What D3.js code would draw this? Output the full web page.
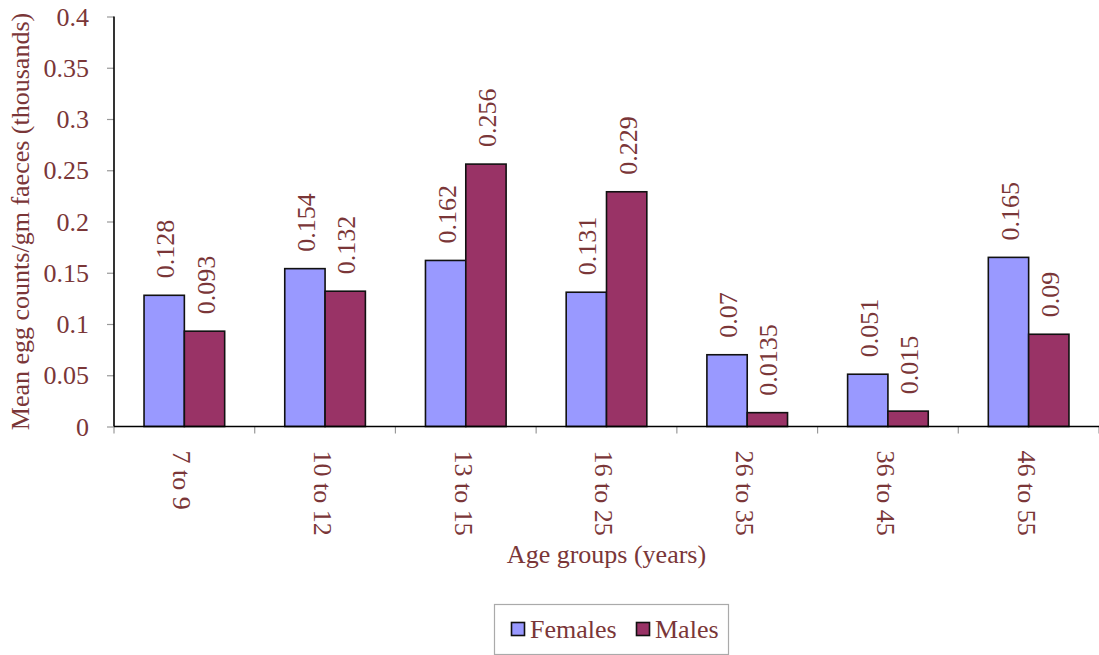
<!DOCTYPE html>
<html>
<head>
<meta charset="utf-8">
<script src="https://cdn.jsdelivr.net/npm/d3@7"></script>
<style>
  html, body { margin: 0; padding: 0; background: #fff; }
  svg { display: block; }
</style>
</head>
<body>
<svg id="chart" width="1099" height="655"></svg>
<script>
// Mean egg counts per gram of faeces (thousands), by age group and sex
const ageGroups = ["7 to 9", "10 to 12", "13 to 15", "16 to 25", "26 to 35", "36 to 45", "46 to 55"];
const seriesNames = ["Females", "Males"];
const females = [0.128, 0.154, 0.162, 0.131, 0.07, 0.051, 0.165];
const males = [0.093, 0.132, 0.256, 0.229, 0.0135, 0.015, 0.09];
const femaleLabels = ["0.128", "0.154", "0.162", "0.131", "0.07", "0.051", "0.165"];
const maleLabels = ["0.093", "0.132", "0.256", "0.229", "0.0135", "0.015", "0.09"];
const yTicks = [0, 0.05, 0.1, 0.15, 0.2, 0.25, 0.3, 0.35, 0.4];
const yTickLabels = ["0", "0.05", "0.1", "0.15", "0.2", "0.25", "0.3", "0.35", "0.4"];

const colors = { Females: "#9999ff", Males: "#993366" };
const textColor = "#7a3638";
const serif = "'Liberation Serif', 'Times New Roman', serif";

const svg = d3.select("#chart");
const plotLeft = 114, plotRight = 1099, plotTop = 16.5, plotBottom = 426.5;

const x = d3.scaleBand().domain(ageGroups).range([plotLeft, plotRight]).paddingInner(0).paddingOuter(0);
const xs = d3.scaleBand().domain(seriesNames).range([0, x.bandwidth()]).paddingInner(0).paddingOuter(0.745);
const y = d3.scaleLinear().domain([0, 0.4]).range([plotBottom, plotTop]);

const rows = ageGroups.map((g, i) => ({
  group: g,
  values: [
    { s: "Females", v: females[i], label: femaleLabels[i] },
    { s: "Males", v: males[i], label: maleLabels[i] }
  ]
}));

// Shared text styling
function styleText(sel) {
  return sel.style("font-family", serif).style("font-size", "26px").style("fill", textColor);
}

// Y axis
const yAxis = d3.axisLeft(y).tickValues(yTicks).tickSize(7).tickPadding(18)
  .tickFormat((d, i) => yTickLabels[i]);
const gy = svg.append("g").attr("transform", `translate(${plotLeft},0)`).call(yAxis)
  .attr("font-family", null).attr("font-size", null);
gy.select(".domain").remove();
gy.selectAll(".tick line").attr("stroke", "#999").attr("stroke-width", 1.2);
styleText(gy.selectAll(".tick text")).attr("dy", "0.33em");

// Category ticks at band boundaries
const boundaries = ageGroups.map(g => x(g)).concat([plotRight]);
svg.append("g").selectAll("line").data(boundaries).join("line")
  .attr("x1", d => d).attr("x2", d => d)
  .attr("y1", plotBottom).attr("y2", plotBottom + 7)
  .attr("stroke", "#999").attr("stroke-width", 1.2);

// Bars
const groups = svg.append("g").selectAll("g").data(rows).join("g")
  .attr("transform", d => `translate(${x(d.group)},0)`);

groups.selectAll("rect").data(d => d.values).join("rect")
  .attr("x", d => xs(d.s))
  .attr("y", d => y(d.v))
  .attr("width", xs.bandwidth())
  .attr("height", d => y(0) - y(d.v))
  .attr("fill", d => colors[d.s])
  .attr("stroke", "#111")
  .attr("stroke-width", 1.6);

// Value labels, rotated, above each bar
styleText(groups.selectAll("text.val").data(d => d.values).join("text"))
  .attr("class", "val")
  .attr("transform", d => `translate(${xs(d.s) + xs.bandwidth() / 2 + 1},${y(d.v) - 17}) rotate(-90)`)
  .attr("dy", "0.35em")
  .attr("text-anchor", "start")
  .text(d => d.label);

// Axis lines
svg.append("line").attr("x1", plotLeft).attr("x2", plotLeft).attr("y1", plotTop).attr("y2", plotBottom)
  .attr("stroke", "#000").attr("stroke-width", 1.6);
svg.append("line").attr("x1", plotLeft).attr("x2", plotRight).attr("y1", plotBottom).attr("y2", plotBottom)
  .attr("stroke", "#000").attr("stroke-width", 1.6);

// Category labels, rotated clockwise
styleText(svg.append("g").selectAll("text").data(ageGroups).join("text"))
  .attr("transform", d => `translate(${x(d) + x.bandwidth() / 2 - 2},${plotBottom + 24}) rotate(90)`)
  .attr("dy", "0.35em")
  .attr("text-anchor", "start")
  .text(d => d);

// Axis titles
styleText(svg.append("text"))
  .attr("x", (plotLeft + plotRight) / 2).attr("y", 563)
  .attr("text-anchor", "middle")
  .text("Age groups (years)");

styleText(svg.append("text"))
  .attr("transform", `translate(29,${(plotTop + plotBottom) / 2}) rotate(-90)`)
  .attr("text-anchor", "middle")
  .text("Mean egg counts/gm faeces (thousands)");

// Legend
const legend = svg.append("g");
legend.append("rect").attr("x", 494.5).attr("y", 604.5).attr("width", 234).attr("height", 50)
  .attr("fill", "#fff").attr("stroke", "#aaa").attr("stroke-width", 1.2);
const legendPos = [{ s: "Females", sx: 511.5, tx: 530 }, { s: "Males", sx: 636.5, tx: 655 }];
legendPos.forEach(p => {
  legend.append("rect").attr("x", p.sx).attr("y", 622.5).attr("width", 13).attr("height", 13)
    .attr("fill", colors[p.s]).attr("stroke", "#111").attr("stroke-width", 1.6);
  styleText(legend.append("text")).attr("x", p.tx).attr("y", 638).text(p.s);
});
</script>
</body>
</html>
